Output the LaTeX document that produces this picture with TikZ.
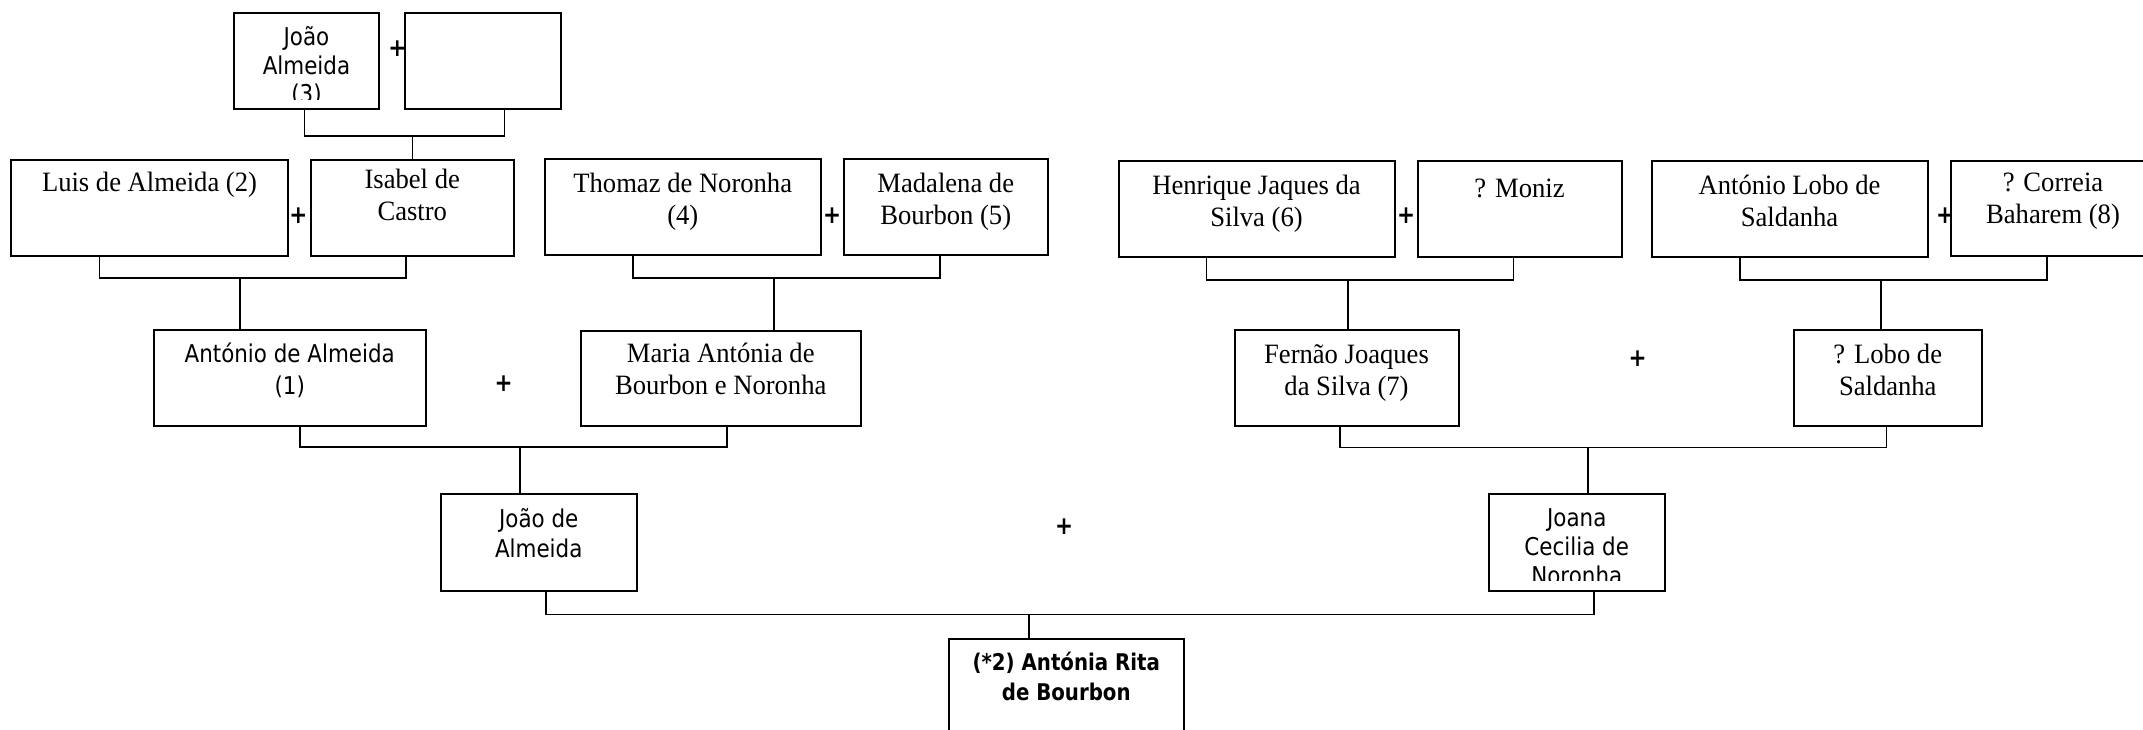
\documentclass[tikz,border=0pt]{standalone}
\usepackage{fontspec}
\setmainfont[FakeStretch=0.95]{Liberation Serif}
\newfontfamily\tahfont[FakeStretch=0.875]{DejaVu Sans}
\newfontfamily\tahbold[FakeStretch=0.86]{DejaVu Sans Bold}
\usetikzlibrary{fit,calc}

\tikzset{
  pbox/.style={draw, line width=2pt, inner sep=0pt, fill=white},
  link/.style={draw, line width=1.6pt},
  serifname/.style={anchor=north, inner sep=0pt, align=center,
    font=\fontsize{28}{32}\selectfont, execute at begin node=\strut},
  sansname/.style={anchor=north, inner sep=0pt, align=center,
    font=\tahfont\fontsize{24.5}{29.5}\selectfont, execute at begin node=\strut},
  plus/.style={inner sep=0pt, font=\tahbold\fontsize{25}{25}\selectfont}
}

% box from its top-left and bottom-right corners (units: 1pt, y downward)
\newcommand{\pbox}[5]{\node[pbox, fit={(#2,#3) (#4,#5)}] (#1) {};}

\begin{document}
\begin{tikzpicture}[x=1pt, y=-1pt]
\clip (0,0) rectangle (2143,729);
\fill[white] (0,0) rectangle (2143,729);

% ---- boxes ----
\pbox{joao3}{234}{13}{379}{109}
\pbox{spouse3}{405}{13}{560.5}{109}
\pbox{luis}{11}{159.5}{288}{256}
\pbox{isabel}{310.5}{159.5}{514}{256}
\pbox{thomaz}{544.5}{159}{821}{255}
\pbox{madalena}{844}{159}{1047.5}{255}
\pbox{antonio}{154}{330}{425.5}{426}
\pbox{maria}{580.5}{330.5}{861}{426}
\pbox{joao}{440.5}{494}{637}{590.5}
\pbox{henrique}{1118.5}{160.5}{1394.5}{256.5}
\pbox{moniz}{1417.5}{160.5}{1621.5}{256.5}
\pbox{alobo}{1651.5}{160.5}{1927.5}{256.5}
\pbox{correia}{1951}{160.5}{2155}{256}
\pbox{fernao}{1234.5}{330}{1458.5}{426}
\pbox{lobo}{1794}{330}{1981.5}{426}
\pbox{joana}{1488.5}{494}{1665}{590.5}
\pbox{rita}{949}{638.5}{1183.5}{760}

% ---- names ----
\begin{scope}
  \clip (joao3.north west) rectangle ([yshift=10.7pt]joao3.south east);
  \node[sansname, font=\tahfont\fontsize{24.5}{28.3}\selectfont] (joao3-t)
    at ([yshift=-14.5pt]joao3.north) {João\\Almeida\\(3)};
\end{scope}
\node[serifname] (luis-t) at ([yshift=-10.3pt]luis.north) {Luis de Almeida (2)};
\node[serifname] (isabel-t) at ([yshift=-10.3pt]isabel.north) {Isabel de\\Castro};
\node[serifname] (thomaz-t) at ([yshift=-15pt]thomaz.north) {Thomaz de Noronha\\(4)};
\node[serifname] (madalena-t) at ([yshift=-15pt]madalena.north) {Madalena de\\Bourbon (5)};
\node[sansname, font=\tahfont\fontsize{24.5}{31.7}\selectfont] (antonio-t)
  at ([yshift=-14pt]antonio.north) {António de Almeida\\(1)};
\node[serifname] (maria-t) at ([yshift=-13.3pt]maria.north) {Maria Antónia de\\Bourbon e Noronha};
\node[sansname, font=\tahfont\fontsize{24.5}{30}\selectfont] (joao-t)
  at ([yshift=-15pt]joao.north) {João de\\Almeida};
\node[serifname] (henrique-t) at ([yshift=-15.5pt]henrique.north) {Henrique Jaques da\\Silva (6)};
\node[serifname] (moniz-t) at ([yshift=-15.5pt]moniz.north) {? Moniz};
\node[serifname] (alobo-t) at ([yshift=-15pt]alobo.north) {António Lobo de\\Saldanha};
\node[serifname] (correia-t) at ([yshift=-13.6pt]correia.north) {? Correia\\Baharem (8)};
\node[serifname] (fernao-t) at ([yshift=-15pt]fernao.north) {Fernão Joaques\\da Silva (7)};
\node[serifname] (lobo-t) at ([yshift=-15pt]lobo.north) {? Lobo de\\Saldanha};
\begin{scope}
  \clip (joana.north west) rectangle ([yshift=11.2pt]joana.south east);
  \node[sansname, font=\tahfont\fontsize{24.5}{29}\selectfont] (joana-t)
    at ([yshift=-15pt]joana.north) {Joana\\Cecilia de\\Noronha};
\end{scope}
\node[sansname, font=\tahbold\fontsize{23}{30}\selectfont] (rita-t)
  at ([yshift=-14pt]rita.north) {(*2) Antónia Rita\\de Bourbon};

% ---- marriage signs ----
\node[plus] (p0) at (397.5,48.5) {+};
\node[plus] (p1) at (298.5,216) {+};
\node[plus] (p2) at (832,216) {+};
\node[plus] (p3) at (1406,216) {+};
\node[plus] (p4) at (1945,216) {+};
\node[plus] (p5) at (503.5,384) {+};
\node[plus] (p6) at (1637.5,359) {+};
\node[plus] (p7) at (1064,527) {+};

% ---- junction points ----
\coordinate (j0) at (412.3,135.7);
\coordinate (j1) at (240,278);
\coordinate (j2) at (773.8,277.7);
\coordinate (j3) at (520,447);
\coordinate (j4) at (1347.8,279.7);
\coordinate (j5) at (1880.7,279.7);
\coordinate (j6) at (1588,447.5);
\coordinate (j7) at (1029,614.3);

% ---- descent lines ----
\draw[link] ([xshift=71.3pt]joao3.south west) |- (j0) -| ([xshift=100.3pt]spouse3.south west);
\draw[link] (j0) -- (j0 |- isabel.north);

\draw[link] ([xshift=89.6pt]luis.south west) |- (j1) -| ([xshift=96.3pt]isabel.south west);
\draw[link] (j1) -- (j1 |- antonio.north);

\draw[link] ([xshift=89.5pt]thomaz.south west) |- (j2) -| ([xshift=96.8pt]madalena.south west);
\draw[link] (j2) -- (j2 |- maria.north);

\draw[link] ([xshift=146.8pt]antonio.south west) |- (j3) -| ([xshift=147.5pt]maria.south west);
\draw[link] (j3) -- (j3 |- joao.north);

\draw[link] ([xshift=89pt]henrique.south west) |- (j4) -| ([xshift=97pt]moniz.south west);
\draw[link] (j4) -- (j4 |- fernao.north);

\draw[link] ([xshift=89.5pt]alobo.south west) |- (j5) -| ([xshift=96.7pt]correia.south west);
\draw[link] (j5) -- (j5 |- lobo.north);

\draw[link] ([xshift=106.5pt]fernao.south west) |- (j6) -| ([xshift=93.5pt]lobo.south west);
\draw[link] (j6) -- (j6 |- joana.north);

\draw[link] ([xshift=106.5pt]joao.south west) |- (j7) -| ([xshift=106.5pt]joana.south west);
\draw[link] (j7) -- (j7 |- rita.north);
\end{tikzpicture}
\end{document}
